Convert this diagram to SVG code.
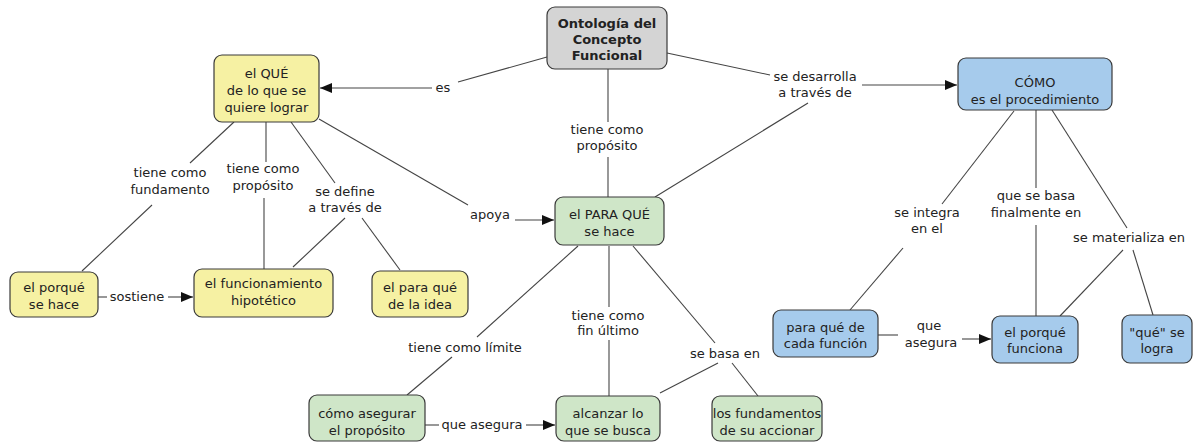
<svg xmlns="http://www.w3.org/2000/svg" width="1195" height="443" viewBox="0 0 1195 443">
<defs>
<style>
.n{stroke:#3a3a3a;stroke-width:1.2}
.y{fill:#f6f1a3}.g{fill:#cfe6c8}.b{fill:#a6cbec}.k{fill:#d4d4d4}
text{font-family:"DejaVu Sans","Verdana",sans-serif;font-size:13px;fill:#222;text-anchor:middle}
.bold{font-weight:bold}
.c line{stroke:#444;stroke-width:1.1}
</style>
<marker id="ah" viewBox="0 0 12 10" refX="12" refY="5" markerWidth="12" markerHeight="10" markerUnits="userSpaceOnUse" orient="auto">
<path d="M0,0 L12,5 L0,10 z" fill="#111"/>
</marker>
</defs>
<rect width="1195" height="443" fill="#fff"/>
<g class="c" id="connectors">
<line x1="547" y1="57" x2="458" y2="82"/>
<line x1="432" y1="88" x2="320" y2="88" marker-end="url(#ah)"/>
<line x1="667" y1="53" x2="770" y2="75"/>
<line x1="862" y1="85" x2="957" y2="85" marker-end="url(#ah)"/>
<line x1="655" y1="197" x2="808" y2="103"/>
<line x1="608" y1="69" x2="608" y2="122"/>
<line x1="608" y1="157" x2="608" y2="197"/>
<line x1="234" y1="122" x2="190" y2="163"/>
<line x1="152" y1="205" x2="82" y2="271"/>
<line x1="266" y1="122" x2="266" y2="162"/>
<line x1="264" y1="198" x2="264" y2="269"/>
<line x1="291" y1="122" x2="335" y2="183"/>
<line x1="345" y1="218" x2="293" y2="267"/>
<line x1="362" y1="218" x2="400" y2="270"/>
<line x1="319" y1="119" x2="468" y2="205"/>
<line x1="515" y1="220" x2="554" y2="220" marker-end="url(#ah)"/>
<line x1="98" y1="297" x2="107" y2="297"/>
<line x1="168" y1="297" x2="193" y2="297" marker-end="url(#ah)"/>
<line x1="578" y1="246" x2="477" y2="337"/>
<line x1="452" y1="357" x2="407" y2="395"/>
<line x1="609" y1="246" x2="609" y2="307"/>
<line x1="609" y1="340" x2="609" y2="396"/>
<line x1="633" y1="246" x2="715" y2="343"/>
<line x1="718" y1="363" x2="660" y2="393"/>
<line x1="732" y1="363" x2="758" y2="396"/>
<line x1="425" y1="425" x2="439" y2="425"/>
<line x1="526" y1="425" x2="555" y2="425" marker-end="url(#ah)"/>
<line x1="1014" y1="111" x2="942" y2="204"/>
<line x1="903" y1="248" x2="850" y2="310"/>
<line x1="1036" y1="110" x2="1036" y2="188"/>
<line x1="1036" y1="225" x2="1036" y2="316"/>
<line x1="1052" y1="110" x2="1127" y2="228"/>
<line x1="1123" y1="250" x2="1060" y2="316"/>
<line x1="1133" y1="250" x2="1153" y2="315"/>
<line x1="878" y1="335" x2="898" y2="335"/>
<line x1="962" y1="339" x2="991" y2="339" marker-end="url(#ah)"/>
</g>
<g id="labels">
<text x="443" y="92">es</text>
<text x="815" y="81">se desarrolla</text><text x="815" y="97">a través de</text>
<text x="607" y="134">tiene como</text><text x="607" y="150">propósito</text>
<text x="170" y="177">tiene como</text><text x="170" y="194">fundamento</text>
<text x="263" y="173">tiene como</text><text x="263" y="190">propósito</text>
<text x="345" y="196">se define</text><text x="345" y="212">a través de</text>
<text x="490" y="219">apoya</text>
<text x="137" y="301">sostiene</text>
<text x="465" y="352">tiene como límite</text>
<text x="608" y="320">tiene como</text><text x="608" y="335">fin último</text>
<text x="725" y="358">se basa en</text>
<text x="482" y="429">que asegura</text>
<text x="927" y="217">se integra</text><text x="927" y="233">en el</text>
<text x="1036" y="200">que se basa</text><text x="1036" y="217">finalmente en</text>
<text x="1129" y="242">se materializa en</text>
<text x="929" y="330">que</text><text x="931" y="347">asegura</text>
</g>
<g id="n-ontologia"><rect class="n k" x="547" y="7" width="120" height="62" rx="8"/>
<text class="bold" x="607" y="28">Ontología del</text><text class="bold" x="607" y="44">Concepto</text><text class="bold" x="607" y="60">Funcional</text></g>
<g id="n-que"><rect class="n y" x="214" y="55" width="105" height="67" rx="8"/>
<text x="266.5" y="78">el QUÉ</text><text x="266.5" y="95">de lo que se</text><text x="266.5" y="112">quiere lograr</text></g>
<g id="n-como"><rect class="n b" x="958" y="58" width="154" height="52" rx="8"/>
<text x="1035" y="87">CÓMO</text><text x="1035" y="104">es el procedimiento</text></g>
<g id="n-porque-hace"><rect class="n y" x="10" y="272" width="88" height="45" rx="8"/>
<text x="54" y="292">el porqué</text><text x="54" y="309">se hace</text></g>
<g id="n-funcionamiento"><rect class="n y" x="194" y="269" width="139" height="48" rx="8"/>
<text x="263.5" y="288">el funcionamiento</text><text x="263.5" y="305">hipotético</text></g>
<g id="n-paraque-idea"><rect class="n y" x="372" y="271" width="96" height="46" rx="8"/>
<text x="420" y="292">el para qué</text><text x="420" y="309">de la idea</text></g>
<g id="n-paraque"><rect class="n g" x="555" y="197" width="109" height="48" rx="8"/>
<text x="609.5" y="219">el PARA QUÉ</text><text x="609.5" y="236">se hace</text></g>
<g id="n-cada-funcion"><rect class="n b" x="773" y="310" width="105" height="47" rx="8"/>
<text x="825.5" y="332">para qué de</text><text x="825.5" y="348">cada función</text></g>
<g id="n-porque-funciona"><rect class="n b" x="992" y="316" width="86" height="47" rx="8"/>
<text x="1035" y="337">el porqué</text><text x="1035" y="353">funciona</text></g>
<g id="n-que-logra"><rect class="n b" x="1122" y="315" width="70" height="48" rx="8"/>
<text x="1157" y="337">"qué" se</text><text x="1157" y="353">logra</text></g>
<g id="n-como-asegurar"><rect class="n g" x="309" y="395" width="116" height="46" rx="8"/>
<text x="367" y="418">cómo asegurar</text><text x="367" y="435">el propósito</text></g>
<g id="n-alcanzar"><rect class="n g" x="556" y="396" width="104" height="45" rx="8"/>
<text x="608" y="418">alcanzar lo</text><text x="608" y="435">que se busca</text></g>
<g id="n-fundamentos"><rect class="n g" x="712" y="396" width="110" height="45" rx="8"/>
<text x="767" y="418">los fundamentos</text><text x="767" y="435">de su accionar</text></g>
</svg>
